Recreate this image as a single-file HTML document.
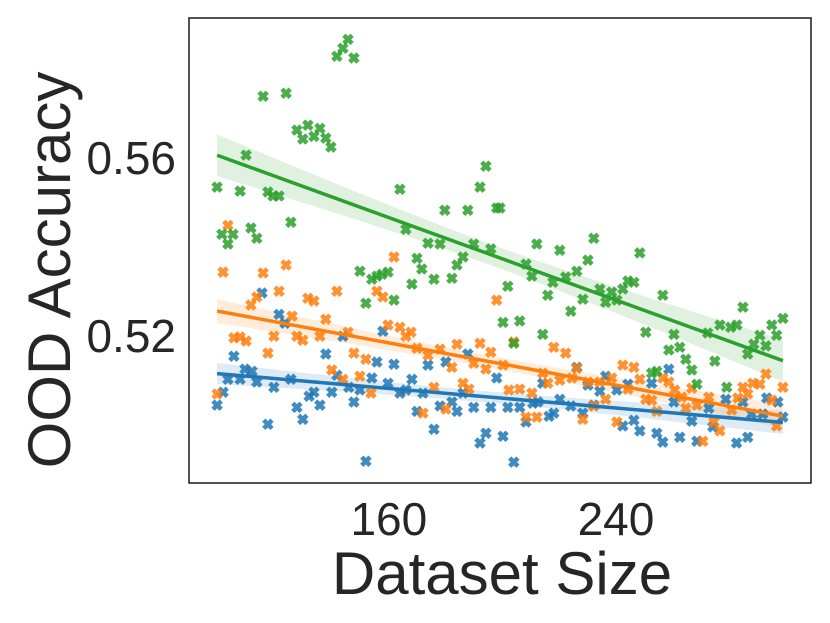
<!DOCTYPE html>
<html><head><meta charset="utf-8"><style>
html,body{margin:0;padding:0;background:#fff;width:830px;height:623px;overflow:hidden}
svg text{font-family:"Liberation Sans","DejaVu Sans",sans-serif;fill:#262626}
</style></head><body>
<svg id="chart" width="830" height="623" viewBox="0 0 830 623" xmlns="http://www.w3.org/2000/svg">
<g id="bands"></g><g id="marks"></g><g id="lines"></g>
<rect x="189" y="18" width="622" height="465" fill="none" stroke="#262626" stroke-width="1.6"/>
<g id="ticks"></g>
<text x="502" y="594" font-size="60" text-anchor="middle">Dataset Size</text>
<text transform="translate(70,270) rotate(-90)" font-size="60" text-anchor="middle">OOD Accuracy</text>
</svg>
<script>
const xTicks=[160,240];
const yTicks=[0.52,0.56];
const yTickLabels=["0.52","0.56"];
const seriesNames=["blue","orange","green"];
const seriesColors=["#1f77b4","#ff7f0e","#2ca02c"];
const blueX=[115.3,121.3,123.4,157.9,143.8,105.4,137.8,155.8,161.8,173.8,180.1,187.8,109.3,111.8,103.3,107.6,113.5,125.5,141.7,154.0,168.1,198.0,119.5,101.6,133.6,139.9,145.9,149.8,159.7,163.9,166.0,172.0,186.1,131.9,99.5,127.6,135.7,147.7,169.9,178.0,182.2,184.0,189.9,195.9,129.7,117.4,175.9,194.2,192.1,151.9,226.2,258.6,214.2,236.4,252.6,230.1,234.3,240.3,244.2,278.7,220.2,224.1,260.4,232.2,201.9,206.1,210.7,212.5,284.7,293.1,297.0,272.7,228.3,216.4,218.1,208.3,266.7,287.8,291.7,298.8,274.1,242.4,246.3,248.4,254.4,200.2,256.5,262.5,268.5,282.5,286.4,204.0];
const blueY=[0.5297,0.5249,0.5229,0.5211,0.5200,0.5155,0.5160,0.5142,0.5137,0.5135,0.5142,0.5160,0.5126,0.5121,0.5103,0.5103,0.5097,0.5103,0.5112,0.5106,0.5103,0.5106,0.5085,0.5074,0.5074,0.5074,0.5085,0.5079,0.5094,0.5072,0.5079,0.5072,0.5072,0.5065,0.5045,0.5040,0.5045,0.5052,0.5031,0.5043,0.5052,0.5031,0.5040,0.5040,0.5013,0.5002,0.4991,0.4982,0.4960,0.4919,0.5130,0.5126,0.5094,0.5110,0.5094,0.5090,0.5076,0.5079,0.5092,0.5058,0.5058,0.5043,0.5052,0.5045,0.5040,0.5040,0.5049,0.5052,0.5052,0.5061,0.5052,0.5038,0.5027,0.5020,0.5027,0.5007,0.5009,0.5025,0.5025,0.5018,0.4996,0.4998,0.5011,0.4987,0.4982,0.4975,0.4962,0.4973,0.4964,0.4960,0.4973,0.4917];
const orangeX=[101.6,115.7,123.8,161.8,103.3,113.5,121.3,111.4,131.5,133.6,141.7,155.8,157.9,125.9,137.8,105.4,107.6,109.7,119.5,127.6,129.7,135.7,145.6,159.7,163.9,166.0,167.8,117.4,147.7,151.9,169.9,173.8,178.0,184.0,192.1,195.9,198.0,182.2,189.9,194.2,139.9,143.8,149.8,153.7,175.9,186.1,188.2,99.5,172.0,180.1,204.0,218.1,222.3,200.2,226.2,242.4,246.3,214.2,216.0,220.2,224.5,230.1,234.3,238.5,244.2,248.4,256.5,258.6,260.7,266.7,292.8,288.2,290.7,284.7,298.8,263.2,272.7,282.9,286.4,294.9,202.3,206.1,210.4,236.4,250.5,252.6,268.5,264.6,254.4,280.8,232.2,208.3,212.1,228.3,240.3,274.5,296.6,276.6,270.6];
const orangeY=[0.5344,0.5342,0.5360,0.5378,0.5449,0.5288,0.5301,0.5270,0.5285,0.5279,0.5301,0.5301,0.5288,0.5245,0.5238,0.5196,0.5198,0.5189,0.5200,0.5200,0.5191,0.5200,0.5209,0.5225,0.5220,0.5200,0.5209,0.5162,0.5162,0.5148,0.5173,0.5157,0.5171,0.5182,0.5184,0.5164,0.5281,0.5130,0.5139,0.5126,0.5124,0.5103,0.5110,0.5072,0.5085,0.5094,0.5081,0.5070,0.5027,0.5036,0.5187,0.5175,0.5162,0.5135,0.5128,0.5135,0.5130,0.5117,0.5094,0.5101,0.5106,0.5097,0.5097,0.5106,0.5081,0.5103,0.5106,0.5097,0.5079,0.5083,0.5115,0.5094,0.5092,0.5085,0.5085,0.5063,0.5063,0.5061,0.5070,0.5056,0.5079,0.5081,0.5072,0.5058,0.5058,0.5056,0.5045,0.5038,0.5031,0.5034,0.5043,0.5018,0.5018,0.5013,0.5007,0.5007,0.4998,0.4987,0.4964];
const greenX=[145.6,143.8,141.7,147.7,115.7,123.8,127.6,131.5,135.7,129.7,133.6,137.8,139.6,109.7,99.5,107.6,117.4,121.3,119.2,125.5,111.4,113.5,101.2,105.1,103.3,163.9,194.2,192.1,179.7,187.8,198.0,166.0,173.8,178.0,189.9,195.9,186.1,169.9,149.8,154.0,155.8,157.6,159.7,151.9,161.8,171.6,168.1,175.9,182.2,184.0,199.1,232.2,212.1,220.2,248.4,230.1,208.3,210.4,226.2,222.3,217.8,244.2,246.3,201.9,242.4,234.3,238.5,216.0,256.5,228.3,236.4,240.3,224.1,284.7,298.8,276.6,280.4,282.6,294.9,200.2,206.1,272.3,250.5,260.4,214.2,290.7,296.6,288.5,292.8,204.0,262.5,258.6,286.4,264.6,274.8,266.7,252.6,254.4,268.5,279.0];
const greenY=[0.5867,0.5847,0.5829,0.5825,0.5739,0.5746,0.5663,0.5674,0.5667,0.5643,0.5649,0.5645,0.5625,0.5607,0.5535,0.5526,0.5524,0.5515,0.5515,0.5456,0.5443,0.5420,0.5429,0.5429,0.5407,0.5530,0.5582,0.5535,0.5483,0.5483,0.5488,0.5440,0.5409,0.5407,0.5407,0.5396,0.5378,0.5375,0.5346,0.5328,0.5335,0.5339,0.5344,0.5274,0.5281,0.5351,0.5317,0.5328,0.5330,0.5360,0.5488,0.5420,0.5407,0.5393,0.5387,0.5371,0.5362,0.5335,0.5346,0.5333,0.5321,0.5324,0.5321,0.5312,0.5306,0.5306,0.5299,0.5292,0.5292,0.5283,0.5276,0.5281,0.5256,0.5265,0.5240,0.5225,0.5220,0.5225,0.5225,0.5231,0.5234,0.5207,0.5209,0.5204,0.5204,0.5202,0.5202,0.5182,0.5178,0.5184,0.5175,0.5169,0.5160,0.5148,0.5144,0.5124,0.5117,0.5121,0.5092,0.5085];

const NS="http://www.w3.org/2000/svg";
const xMin=89.6,xMax=308.7,yMin=0.4870,yMax=0.5915;
const L=189,R=811,T=18,B=483;
function sx(v){return L+(v-xMin)/(xMax-xMin)*(R-L);}
function sy(v){return B-(v-yMin)/(yMax-yMin)*(B-T);}
function mk(tag,attrs,parent){const e=document.createElementNS(NS,tag);for(const k in attrs)e.setAttribute(k,attrs[k]);parent.appendChild(e);return e;}

const bands=document.getElementById('bands'),marks=document.getElementById('marks'),lines=document.getElementById('lines'),ticks=document.getElementById('ticks');
const allX=[blueX,orangeX,greenX],allY=[blueY,orangeY,greenY];
const xs="M-5,-2.2 L-2.2,-5 L0,-2.8 L2.2,-5 L5,-2.2 L2.8,0 L5,2.2 L2.2,5 L0,2.8 L-2.2,5 L-5,2.2 L-2.8,0 Z";

for(let s=0;s<3;s++){
  const X=allX[s],Y=allY[s],n=X.length,c=seriesColors[s];
  let mx=0,my=0;for(let i=0;i<n;i++){mx+=X[i];my+=Y[i];}mx/=n;my/=n;
  let sxx=0,sxy=0;for(let i=0;i<n;i++){sxx+=(X[i]-mx)**2;sxy+=(X[i]-mx)*(Y[i]-my);}
  const b=sxy/sxx,a=my-b*mx;
  let sse=0;for(let i=0;i<n;i++){sse+=(Y[i]-a-b*X[i])**2;}
  const se=Math.sqrt(sse/(n-2));
  const x0=Math.min(...X),x1=Math.max(...X);
  let up=[],lo=[];
  for(let k=0;k<=40;k++){const xv=x0+(x1-x0)*k/40;const yv=a+b*xv;const h=1.98*se*Math.sqrt(1/n+(xv-mx)**2/sxx);
    up.push(sx(xv).toFixed(1)+","+sy(yv+h).toFixed(1));lo.unshift(sx(xv).toFixed(1)+","+sy(yv-h).toFixed(1));}
  const band=mk('polygon',{points:up.concat(lo).join(' '),fill:c,'fill-opacity':0.15},bands);
  
  
  for(let i=0;i<n;i++){
    const p=mk('path',{d:xs,transform:`translate(${sx(X[i]).toFixed(1)},${sy(Y[i]).toFixed(1)}) scale(1.15)`,fill:c,'fill-opacity':0.85},marks);
    
    
  }
  const ln=mk('line',{x1:sx(x0),y1:sy(a+b*x0),x2:sx(x1),y2:sy(a+b*x1),stroke:c,'stroke-width':3.5},lines);
  
  
}
xTicks.forEach(v=>{
  const t=mk('text',{x:sx(v),y:535,'font-size':46,'text-anchor':'middle'},ticks);t.textContent=v;
  
  
});
yTicks.forEach((v,i)=>{
  const t=mk('text',{x:176,y:sy(v)+16,'font-size':46,'text-anchor':'end'},ticks);t.textContent=yTickLabels[i];
  
  
});
</script>
</body></html>
